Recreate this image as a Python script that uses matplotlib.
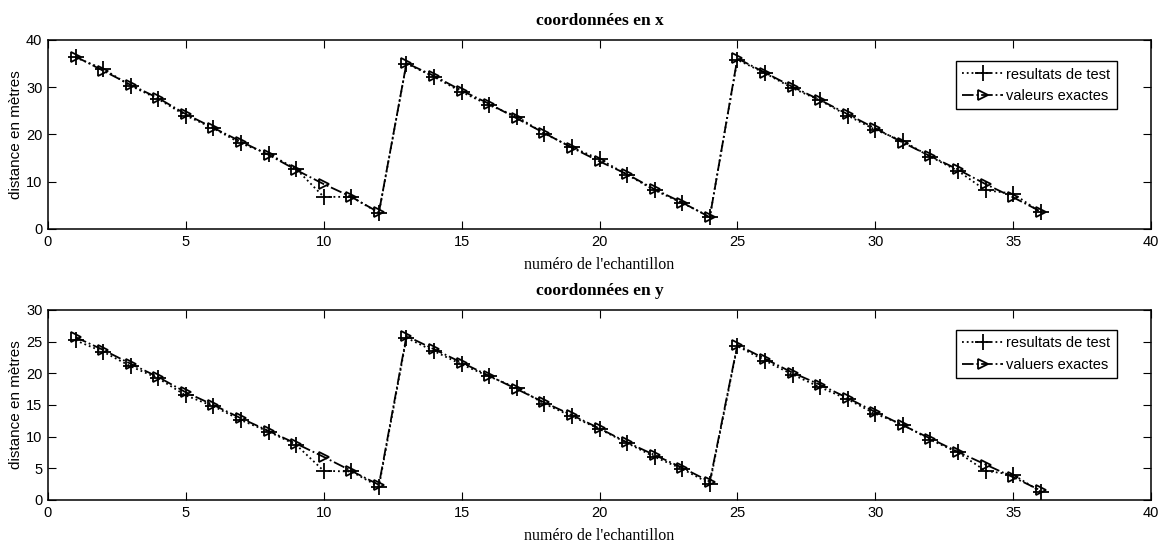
import matplotlib
matplotlib.use('Agg')
import matplotlib.pyplot as plt

# numero de l'echantillon
samples = list(range(1, 37))

# coordonnees en x
x_exact = [36.5, 33.5, 30.5, 27.7, 24.3, 21.4, 18.5, 15.7, 12.5, 9.5, 6.8, 3.5,
           35.1, 32.4, 29.3, 26.5, 23.4, 20.3, 17.2, 14.3, 11.6, 8.4, 5.6, 2.5,
           36.1, 33.1, 30.1, 27.3, 24.3, 21.3, 18.3, 15.4, 12.6, 9.5, 6.7, 3.7]
x_test = [36.3, 33.9, 30.3, 27.5, 24.0, 21.3, 18.1, 15.9, 12.7, 6.8, 6.8, 3.4,
          35.0, 32.2, 29.0, 26.2, 23.8, 20.2, 17.3, 14.8, 11.5, 8.2, 5.5, 2.6,
          35.8, 33.0, 29.8, 27.2, 24.0, 21.0, 18.6, 15.3, 12.3, 8.2, 7.5, 3.5]

# coordonnees en y
y_exact = [25.7, 23.7, 21.5, 19.4, 17.0, 15.0, 12.9, 10.9, 8.9, 6.8, 4.6, 2.4,
           25.9, 23.8, 21.7, 19.6, 17.5, 15.4, 13.4, 11.3, 9.1, 7.1, 5.1, 2.9,
           24.5, 22.3, 20.1, 18.2, 16.1, 13.9, 11.8, 9.7, 7.6, 5.6, 3.6, 1.5]
y_test = [25.2, 23.4, 21.1, 19.2, 16.5, 14.8, 12.6, 10.8, 8.7, 4.6, 4.5, 2.1,
          25.6, 23.5, 21.4, 19.5, 17.7, 15.2, 13.2, 11.2, 9.0, 6.8, 4.9, 2.6,
          24.3, 22.0, 19.8, 17.8, 15.9, 13.6, 11.9, 9.5, 7.5, 4.6, 4.0, 1.3]

titles = ['coordonnées en x', 'coordonnées en y']
xlabel = "numéro de l'echantillon"
ylabel = 'distance en mètres'
legend_labels = ['resultats de test', 'valeurs exactes']
legend_labels_y = ['resultats de test', 'valuers exactes']

serif = ['Liberation Serif', 'DejaVu Serif']
narrow = ['Liberation Sans Narrow', 'Liberation Sans', 'DejaVu Sans']

fig = plt.figure(figsize=(11.65, 5.42), dpi=100)
ax1 = fig.add_axes([0.0412, 0.5775, 0.9468, 0.3487])
ax2 = fig.add_axes([0.0412, 0.0775, 0.9468, 0.3506])

panels = [(ax1, x_test, x_exact, 40, 10, legend_labels, 0.889),
          (ax2, y_test, y_exact, 30, 5, legend_labels_y, 0.895)]

for i, (ax, test, exact, ymax, ystep, labs, legy) in enumerate(panels):
    ax.plot(samples, test, color='black', linestyle=':', linewidth=1.3,
            marker='+', markersize=12, markeredgewidth=1.3, label=labs[0])
    ax.plot(samples, exact, color='black', linestyle='-.', linewidth=1.3,
            marker='>', markersize=7, markerfacecolor='none',
            markeredgewidth=1.3, label=labs[1])
    ax.set_xlim(0, 40)
    ax.set_ylim(0, ymax)
    ax.set_xticks(range(0, 41, 5))
    ax.set_yticks(range(0, ymax + 1, ystep))
    ax.tick_params(direction='in', top=True, right=True, length=6,
                   labelsize=10.5, pad=4)
    for lab in ax.get_xticklabels() + ax.get_yticklabels():
        lab.set_family(narrow)
    for sp in ax.spines.values():
        sp.set_linewidth(1.1)
    ax.set_title(titles[i], family=serif, fontsize=12.5, fontweight='bold',
                 pad=11)
    ax.set_xlabel(xlabel, family=serif, fontsize=11.5, labelpad=6)
    ax.set_ylabel(ylabel, family=['Liberation Sans', 'DejaVu Sans'],
                  fontsize=11, labelpad=2)
    leg = ax.legend(loc='upper right', bbox_to_anchor=(0.969, legy),
                    borderaxespad=0,
                    prop={'family': narrow, 'size': 10.5}, fancybox=False,
                    framealpha=1, edgecolor='black', handlelength=2.8,
                    handletextpad=0.2, borderpad=0.45, labelspacing=0.5)
    leg.get_frame().set_linewidth(1.0)

fig.savefig('out.png', dpi=100)
